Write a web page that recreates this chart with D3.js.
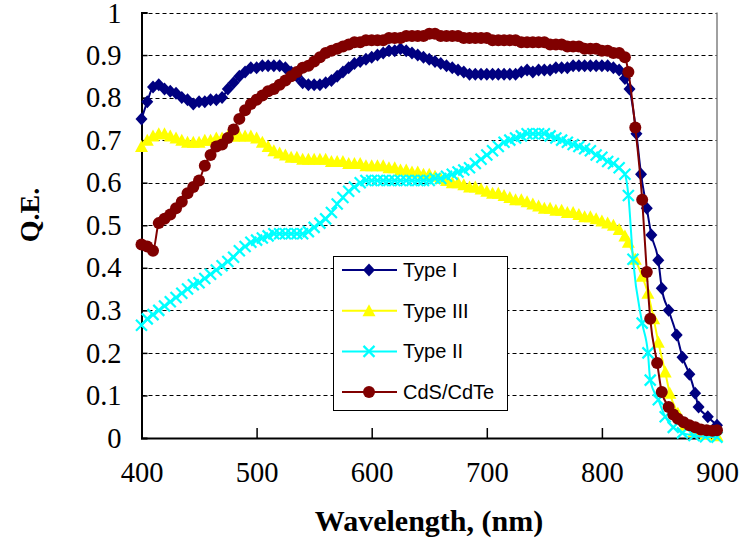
<!DOCTYPE html>
<html><head><meta charset="utf-8">
<script src="https://cdn.jsdelivr.net/npm/d3@7"></script>
<style>body{margin:0;background:#fff}</style>
</head><body><svg id="c" width="740" height="543"></svg>
<script>
const typeIWl = [400,405,410,415,420,425,430,435,440,445,450,455,460,465,470,475,480,485,490,495,500,505,510,515,520,525,530,535,540,545,550,555,560,565,570,575,580,585,590,595,600,605,610,615,620,625,630,635,640,645,650,655,660,665,670,675,680,685,690,695,700,705,710,715,720,725,730,735,740,745,750,755,760,765,770,775,780,785,790,795,800,805,810,815,820,824,830,834,839,843,849,852,858,865,870,876,881,884,892,900];
const typeIQE = [0.75,0.79,0.825,0.83,0.82,0.815,0.81,0.80,0.795,0.785,0.79,0.79,0.795,0.795,0.80,0.82,0.835,0.85,0.86,0.87,0.87,0.875,0.875,0.875,0.875,0.87,0.86,0.85,0.835,0.83,0.83,0.83,0.835,0.84,0.85,0.86,0.87,0.88,0.885,0.89,0.895,0.90,0.905,0.91,0.91,0.915,0.91,0.905,0.90,0.895,0.89,0.885,0.88,0.875,0.87,0.865,0.86,0.855,0.855,0.855,0.855,0.855,0.855,0.855,0.855,0.855,0.86,0.865,0.86,0.865,0.865,0.865,0.87,0.87,0.87,0.875,0.875,0.875,0.875,0.875,0.875,0.875,0.87,0.865,0.845,0.82,0.715,0.62,0.54,0.477,0.418,0.352,0.30,0.242,0.19,0.15,0.105,0.073,0.05,0.03];

const typeIIIWl = [400,405,410,415,420,425,430,435,440,445,450,455,460,465,470,475,480,485,490,495,500,505,510,515,520,525,530,535,540,545,550,555,560,565,570,575,580,585,590,595,600,605,610,615,620,625,630,635,640,645,650,655,660,665,670,675,680,685,690,695,700,705,710,715,720,725,730,735,740,745,750,755,760,765,770,775,780,785,790,795,800,805,810,815,820,823,829,835,840,845,849,855,859,866,872,880,890,900];
const typeIIIQE = [0.685,0.70,0.71,0.715,0.715,0.71,0.705,0.70,0.695,0.695,0.695,0.70,0.70,0.705,0.705,0.71,0.71,0.71,0.71,0.71,0.705,0.695,0.685,0.675,0.67,0.665,0.66,0.66,0.655,0.655,0.655,0.655,0.655,0.65,0.65,0.65,0.645,0.645,0.645,0.64,0.64,0.64,0.64,0.635,0.635,0.63,0.63,0.625,0.625,0.62,0.62,0.615,0.61,0.605,0.60,0.60,0.595,0.59,0.59,0.585,0.58,0.575,0.575,0.57,0.565,0.56,0.56,0.555,0.55,0.545,0.54,0.54,0.535,0.535,0.53,0.53,0.525,0.52,0.52,0.515,0.51,0.505,0.50,0.49,0.475,0.46,0.42,0.38,0.34,0.28,0.225,0.155,0.105,0.058,0.03,0.015,0.008,0.005];

const typeIIWl = [400,405,410,415,420,425,430,435,440,445,450,455,460,465,470,475,480,485,490,495,500,505,510,515,520,525,530,535,540,545,550,555,560,565,570,575,580,585,590,595,600,605,610,615,620,625,630,635,640,645,650,655,660,665,670,675,680,685,690,695,700,705,710,715,720,725,730,735,740,745,750,755,760,765,770,775,780,785,790,795,800,805,810,815,820,823,827,835,840,842,849,855,862,870,880,890,900];
const typeIIQE = [0.265,0.28,0.29,0.30,0.31,0.32,0.33,0.34,0.35,0.36,0.365,0.375,0.385,0.395,0.405,0.415,0.425,0.44,0.45,0.46,0.465,0.47,0.475,0.48,0.48,0.48,0.48,0.48,0.48,0.485,0.495,0.505,0.515,0.53,0.55,0.565,0.58,0.59,0.60,0.605,0.605,0.605,0.605,0.605,0.605,0.605,0.605,0.605,0.605,0.605,0.605,0.61,0.61,0.615,0.62,0.625,0.63,0.635,0.645,0.655,0.665,0.675,0.685,0.695,0.70,0.705,0.71,0.715,0.715,0.715,0.715,0.71,0.705,0.70,0.695,0.69,0.685,0.68,0.675,0.665,0.66,0.65,0.645,0.635,0.62,0.57,0.42,0.27,0.20,0.136,0.09,0.05,0.025,0.012,0.006,0.003,0.002];

const cdteWl = [400,405,410,415,420,425,430,435,440,445,450,455,460,465,470,475,480,485,490,495,500,505,510,515,520,525,530,535,540,545,550,555,560,565,570,575,580,585,590,595,600,605,610,615,620,625,630,635,640,645,650,655,660,665,670,675,680,685,690,695,700,705,710,715,720,725,730,735,740,745,750,755,760,765,770,775,780,785,790,795,800,805,810,815,820,823,829,835,839,842,848,852,858,862,866,871,876,881,886,891,896,900];
const cdteQE = [0.455,0.45,0.44,0.505,0.515,0.525,0.54,0.555,0.575,0.59,0.605,0.64,0.665,0.685,0.69,0.705,0.725,0.75,0.77,0.785,0.795,0.805,0.815,0.82,0.83,0.84,0.85,0.86,0.87,0.875,0.885,0.895,0.905,0.91,0.915,0.92,0.925,0.93,0.93,0.935,0.935,0.935,0.935,0.94,0.94,0.94,0.945,0.945,0.945,0.945,0.95,0.95,0.945,0.945,0.945,0.945,0.94,0.94,0.94,0.94,0.94,0.935,0.935,0.935,0.935,0.935,0.93,0.93,0.93,0.93,0.93,0.925,0.925,0.925,0.92,0.92,0.92,0.915,0.915,0.915,0.91,0.91,0.905,0.905,0.895,0.86,0.73,0.56,0.39,0.28,0.176,0.108,0.073,0.055,0.045,0.037,0.03,0.025,0.02,0.018,0.017,0.018];

const seriesNames = ["Type I","Type III","Type II","CdS/CdTe"];
const seriesColors = ["#000080","#FFFF00","#00FFFF","#800000"];
const seriesMarkers = ["diamond","triangle","cross","circle"];
const xTicks = [400,500,600,700,800,900];
const yTicks = [0,0.1,0.2,0.3,0.4,0.5,0.6,0.7,0.8,0.9,1];

const series = [
  {wl:typeIWl, qe:typeIQE},
  {wl:typeIIIWl, qe:typeIIIQE},
  {wl:typeIIWl, qe:typeIIQE},
  {wl:cdteWl, qe:cdteQE}
].map((s,i)=>({name:seriesNames[i], color:seriesColors[i], marker:seriesMarkers[i],
  pts:s.wl.map((w,j)=>[w,s.qe[j]])}));

const svg = d3.select("#c");
const L=141.5, R=717, T=12.5, B=438;
const x = d3.scaleLinear().domain([400,900]).range([L,R]);
const y = d3.scaleLinear().domain([0,1]).range([B,T]);

// gridlines
svg.append("g").selectAll("line").data(yTicks.filter(d=>d>0)).join("line")
  .attr("x1",L).attr("x2",R).attr("y1",d=>Math.round(y(d))+0.5).attr("y2",d=>Math.round(y(d))+0.5)
  .attr("stroke","#000").attr("stroke-width",1).attr("stroke-dasharray","4,3");
// right border
svg.append("line").attr("x1",R).attr("x2",R).attr("y1",T).attr("y2",B).attr("stroke","#808080").attr("stroke-width",1.5);

// axes
const xAxis = svg.append("g").attr("transform",`translate(0,${B})`)
  .call(d3.axisBottom(x).tickValues(xTicks).tickSize(-10).tickPadding(24).tickFormat(d3.format("d")));
const yAxis = svg.append("g").attr("transform",`translate(${L},0)`)
  .call(d3.axisLeft(y).tickValues(yTicks).tickSize(-6).tickPadding(20).tickFormat(d=>d===0?"0":d===1?"1":d3.format(".1f")(d)));
[xAxis,yAxis].forEach(a=>{
  a.select(".domain").attr("stroke","#000").attr("stroke-width",2);
  a.selectAll(".tick line").attr("stroke","#000").attr("stroke-width",1.5);
  a.selectAll("text").attr("font-family","'Liberation Serif','Times New Roman',serif").attr("font-size",28.5).attr("fill","#000");
});
xAxis.selectAll(".tick line").filter(d=>d===400||d===900).remove();
yAxis.selectAll(".tick line").filter(d=>d===0).remove();
yAxis.selectAll(".tick text").filter(d=>d===1).attr("dy","0.36em");

function marker(g, type, color, px, py){
  if(type==="diamond"){
    g.append("path").attr("d",`M${px},${py-6.5}L${px+6},${py}L${px},${py+6.5}L${px-6},${py}Z`).attr("fill",color);
  } else if(type==="triangle"){
    g.append("path").attr("d",`M${px},${py-6.5}L${px+6.5},${py+5.5}L${px-6.5},${py+5.5}Z`).attr("fill",color);
  } else if(type==="cross"){
    g.append("path").attr("d",`M${px-5.5},${py-5.5}L${px+5.5},${py+5.5}M${px-5.5},${py+5.5}L${px+5.5},${py-5.5}`).attr("stroke",color).attr("stroke-width",2.2);
  } else {
    g.append("circle").attr("cx",px).attr("cy",py).attr("r",6).attr("fill",color);
  }
}

const line = d3.line().x(d=>x(d[0])).y(d=>y(d[1])).curve(d3.curveMonotoneX);
series.forEach(s=>{
  const g = svg.append("g");
  g.append("path").attr("d",line(s.pts)).attr("fill","none").attr("stroke",s.color).attr("stroke-width",2);
  s.pts.forEach(p=>marker(g,s.marker,s.color,x(p[0]),y(p[1])));
});

// legend
const lg = svg.append("g");
lg.append("rect").attr("x",333.5).attr("y",256.5).attr("width",174).attr("height",154).attr("fill","#fff").attr("stroke","#000").attr("stroke-width",1);
series.forEach((s,i)=>{
  const cy = 270 + i*40.7;
  lg.append("line").attr("x1",342).attr("x2",397).attr("y1",cy).attr("y2",cy).attr("stroke",s.color).attr("stroke-width",2);
  marker(lg,s.marker,s.color,369,cy);
  lg.append("text").attr("x",403).attr("y",cy+7).attr("font-family","'Liberation Sans',Arial,sans-serif").attr("font-size",20).text(s.name);
});

// titles
svg.append("text").attr("x",429).attr("y",531).attr("text-anchor","middle")
  .attr("font-family","'Liberation Serif','Times New Roman',serif").attr("font-weight","bold").attr("font-size",30).text("Wavelength, (nm)");
svg.append("text").attr("transform","translate(39,215) rotate(-90)").attr("text-anchor","middle")
  .attr("font-family","'Liberation Serif','Times New Roman',serif").attr("font-weight","bold").attr("font-size",28).text("Q.E.");
</script></body></html>
